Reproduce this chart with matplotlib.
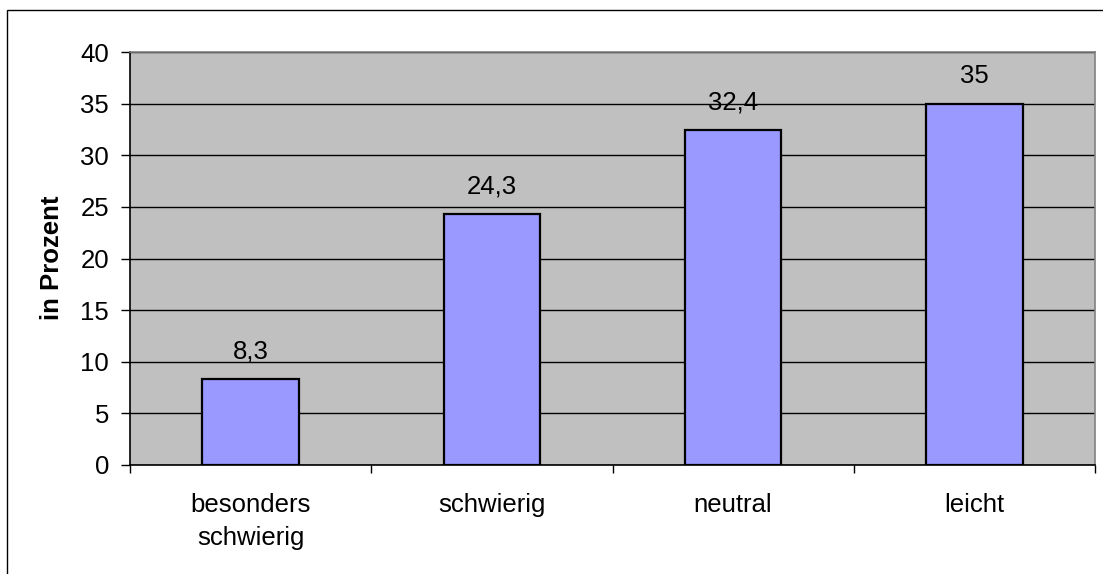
import matplotlib
matplotlib.use("Agg")
import matplotlib.pyplot as plt
from matplotlib.patches import Rectangle
from matplotlib.ticker import FixedLocator

categories = ["besonders\nschwierig", "schwierig", "neutral", "leicht"]
values = [8.3, 24.3, 32.4, 35]
value_labels = ["8,3", "24,3", "32,4", "35"]
y_ticks = [0, 5, 10, 15, 20, 25, 30, 35, 40]

plt.rcParams["font.family"] = ["Liberation Sans", "DejaVu Sans"]
FS = 18.5

W, H = 1103, 574
fig = plt.figure(figsize=(W / 100, H / 100), dpi=100)
fig.patch.set_facecolor("white")

# outer chart frame (open to the right and bottom)
fig.patches.append(Rectangle((7 / W, -0.05), 1.1, 1 - 10 / H + 0.05,
                             transform=fig.transFigure, fill=False,
                             edgecolor="black", linewidth=1.0))

left, right, top, bottom = 130, 1095, 52, 465
ax = fig.add_axes([left / W, 1 - bottom / H, (right - left) / W, (bottom - top) / H])
ax.set_facecolor("#C0C0C0")

x = range(len(categories))
ax.bar(x, values, width=0.4, color="#9999FF", edgecolor="black",
       linewidth=1.6, zorder=3)
for xi, v, lab in zip(x, values, value_labels):
    ax.annotate(lab, (xi, v), xytext=(0, 15), textcoords="offset points",
                ha="center", va="baseline", fontsize=FS)

ax.set_xlim(-0.5, len(categories) - 0.5)
ax.set_ylim(0, 40)
ax.set_yticks(y_ticks)
ax.set_yticklabels([str(t) for t in y_ticks])
ax.yaxis.grid(True, color="black", linewidth=1.0, zorder=1)
ax.set_axisbelow(True)

ax.set_xticks(list(x))
ax.set_xticklabels(categories, linespacing=1.5)
ax.xaxis.set_minor_locator(FixedLocator([i - 0.5 for i in range(len(categories) + 1)]))
ax.tick_params(axis="x", which="major", length=0, pad=20, labelsize=FS)
ax.tick_params(axis="x", which="minor", length=6, width=1.0, direction="out")
ax.tick_params(axis="y", length=6.5, width=1.0, direction="out", pad=8.5, labelsize=FS)

for s in ["left", "bottom"]:
    ax.spines[s].set_color("black")
    ax.spines[s].set_linewidth(1.2)
for s in ["top", "right"]:
    ax.spines[s].set_color("#808080")
    ax.spines[s].set_linewidth(1.2)

fig.text(52 / W, 1 - 258 / H, "in Prozent", rotation=90, ha="center", va="center",
         fontsize=FS, fontweight="bold")

fig.savefig("out.png", dpi=100)
